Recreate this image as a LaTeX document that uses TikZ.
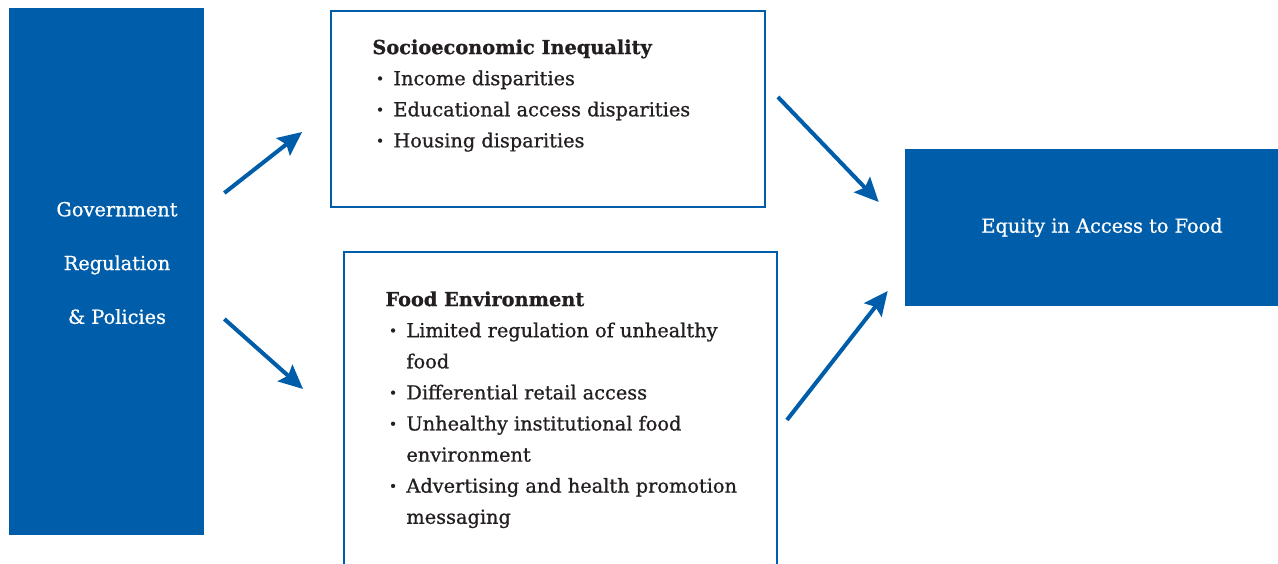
\documentclass[tikz,border=0pt]{standalone}
\usepackage{fontspec}
\setmainfont{DejaVu Serif}[FakeBold=0.8]
\usetikzlibrary{arrows.meta,positioning,calc}
\definecolor{fblue}{HTML}{005DAA}
\definecolor{ink}{HTML}{231F20}
\tikzset{
  bluebox/.style={fill=fblue, draw=none, inner sep=0pt},
  framebox/.style={draw=fblue, line width=1.1pt, fill=white, inner sep=0pt},
  listtext/.style={text=ink, align=left, inner sep=0pt, font=\fontsize{11}{17.7}\selectfont},
  whitetext/.style={text=white, align=center, inner sep=0pt, font=\fontsize{11}{13}\selectfont},
  arrow/.style={-{Stealth[length=4.8mm,width=4.4mm,inset=0.8mm]}, line width=2.3pt, draw=fblue}
}
\newcommand{\bul}{\makebox[0.42cm][l]{\hspace{0.07cm}\raisebox{0.15ex}{\footnotesize\textbullet}}}
\newcommand{\cont}{\hspace*{0.42cm}}

\begin{document}
\begin{tikzpicture}[x=0.02cm,y=-0.02cm]
  \path[use as bounding box] (0,0) rectangle (1278,564);
  \clip (0,0) rectangle (1278,564);

  % boxes
  \node[bluebox, minimum width=3.9cm, minimum height=10.54cm] (gov) at (106.5,271.5) {};
  \node[framebox, minimum width=8.68cm, minimum height=3.92cm] (soc) at (548,109) {};
  \node[framebox, minimum width=8.66cm, minimum height=7.36cm] (food) at (560.5,436) {};
  \node[bluebox, whitetext, minimum width=7.88cm, minimum height=3.14cm] (equity) at (1102,227.5) {Equity in Access to Food};

  % texts
  \node[whitetext, font=\fontsize{11}{30.6}\selectfont] (govtxt) at (117,263) {Government\\Regulation\\\& Policies};
  \node[listtext, anchor=north west] (soctxt) at ([shift={(42,29)}]soc.north west) {\textbf{Socioeconomic Inequality}\\
\bul Income disparities\\
\bul Educational access disparities\\
\bul Housing disparities};
  \node[listtext, anchor=north west] (foodtxt) at ([shift={(42,40)}]food.north west) {\textbf{Food Environment}\\
\bul Limited regulation of unhealthy\\
\cont food\\
\bul Differential retail access\\
\bul Unhealthy institutional food\\
\cont environment\\
\bul Advertising and health promotion\\
\cont messaging};

  % arrows
  \draw[arrow] ([shift={(20,-78.5)}]gov.east) -- ([shift={(-28,23)}]soc.west);
  \draw[arrow] ([shift={(20,47.5)}]gov.east) -- ([shift={(-40,-47)}]food.west);
  \draw[arrow] ([shift={(12,-12)}]soc.east) -- ([shift={(-26,-25.5)}]equity.west);
  \draw[arrow] ([shift={(9,-16)}]food.east) -- ([shift={(-17,63.5)}]equity.west);
\end{tikzpicture}
\end{document}
